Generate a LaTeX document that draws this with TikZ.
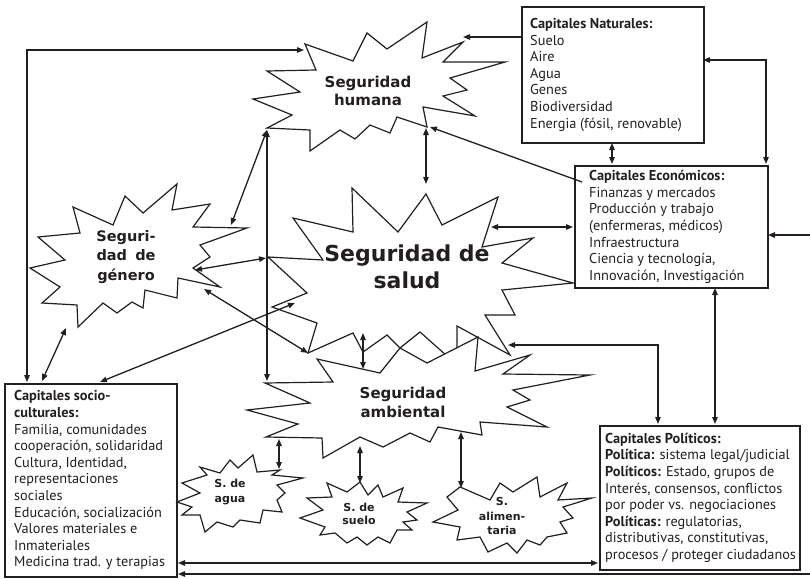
\documentclass[tikz,border=0pt]{standalone}
\usepackage{fontspec}
\setmainfont{PT Sans}
\newfontfamily\starfont{DejaVu Sans}
\usetikzlibrary{arrows.meta}
\definecolor{ink}{HTML}{231F20}
\begin{document}
\begin{tikzpicture}[x=1pt,y=-1pt,line join=miter,
  >={Triangle[length=7pt,width=5.5pt]},
  star/.style={draw=ink,fill=white,line width=1.2pt},
  conn/.style={draw=ink,line width=1.3pt},
  capbox/.style={draw=ink,line width=1.6pt,inner sep=0pt,anchor=north west},
  captext/.style={anchor=west,align=left,inner sep=0pt,text=ink,
    font=\fontsize{14.3}{16.6}\selectfont},
  startext/.style={align=center,inner sep=0pt,text=ink,font=\starfont\bfseries}]
\useasboundingbox (0,0) rectangle (810,578);

% ---- boxes ----
\node[capbox,minimum width=182pt,minimum height=136pt] (nat) at (521,6) {};
\node[capbox,minimum width=193pt,minimum height=122pt] (eco) at (574,165) {};
\node[capbox,minimum width=172pt,minimum height=193pt] (soc) at (4,383) {};
\node[capbox,minimum width=200pt,minimum height=144pt] (pol) at (599,425) {};

\node[captext] (natT) at ([xshift=9pt]nat.west) {\textbf{Capitales Naturales:}\\Suelo\\Aire\\Agua\\Genes\\Biodiversidad\\Energia (fósil, renovable)};
\node[captext] (ecoT) at ([xshift=15pt]eco.west) {\textbf{Capitales Económicos:}\\Finanzas y mercados\\Producción y trabajo\\(enfermeras, médicos)\\Infraestructura\\Ciencia y tecnología,\\Innovación, Investigación};
\node[captext] (socT) at ([xshift=10pt]soc.west) {\textbf{Capitales socio-}\\\textbf{culturales:}\\Familia, comunidades\\cooperación, solidaridad\\Cultura, Identidad,\\representaciones\\sociales\\Educación, socialización\\Valores materiales e\\Inmateriales\\Medicina trad. y terapias};
\node[captext] (polT) at ([xshift=6pt]pol.west) {\textbf{Capitales Políticos:}\\\textbf{Política:} sistema legal/judicial\\\textbf{Políticos:} Estado, grupos de\\Interés, consensos, conflictos\\por poder vs. negociaciones\\\textbf{Políticas:} regulatorias,\\distributivas, constitutivas,\\procesos / proteger ciudadanos};

% ---- stars ----
% Seguridad humana
\draw[star] (305,44)--(353,61)--(367,33)--(387,49)--(427,22)--(422,58)--(463,42)--(443,62)--(505,62)--(450,78)--(467,90)--(443,96)--(475,116)--(423,107)--(427,127)--(397,117)--(390,133)--(370,125)--(355,139)--(340,130)--(310,151)--(310,130)--(267,128)--(292,115)--(253,99)--(300,92)--(267,71)--(316,70)--cycle;
% Seguridad de salud
\draw[star] (268,257)--(323,260)--(293,218)--(353,232)--(352,188)--(398,232)--(426,194)--(442,225)--(498,197)--(482,247)--(533,238)--(502,263)--(573,283)--(502,290)--(515,315)--(485,315)--(510,355)--(457,326)--(457,350)--(447,356)--(420,332)--(400,348)--(387,335)--(363,352)--(353,333)--(308,353)--(317,323)--(272,307)--(307,293)--cycle;
% Seguridad ambiental
\draw[star] (265,383)--(333,382)--(317,359)--(380,373)--(400,348)--(427,363)--(478,337)--(475,371)--(530,355)--(503,374)--(590,375)--(513,390)--(530,400)--(507,407)--(547,427)--(480,422)--(482,435)--(438,427)--(430,442)--(410,433)--(383,447)--(360,437)--(323,458)--(322,438)--(266,437)--(298,424)--(247,410)--(310,403)--cycle;
% Seguridad de genero
\draw[star] (30,268)--(65,260)--(38,237)--(80,233)--(73,207)--(113,225)--(125,196)--(143,213)--(177,184)--(172,210)--(210,204)--(193,227)--(247,228)--(200,245)--(210,257)--(193,268)--(220,287)--(178,278)--(177,298)--(145,290)--(143,308)--(132,302)--(117,313)--(103,303)--(78,327)--(77,305)--(42,303)--(60,287)--cycle;
% S. de agua
\draw[star] (177,502)--(200,493)--(182,483)--(207,475)--(200,467)--(220,473)--(230,460)--(238,468)--(253,455)--(257,472)--(280,470)--(272,475)--(303,478)--(277,485)--(285,493)--(277,500)--(282,512)--(263,510)--(260,523)--(240,520)--(233,527)--(217,522)--(205,532)--(200,515)--(182,515)--(192,507)--cycle;
% S. de suelo
\draw[star] (300,518)--(323,510)--(307,498)--(332,497)--(327,483)--(347,492)--(360,482)--(368,495)--(378,485)--(383,497)--(403,488)--(398,502)--(427,503)--(407,512)--(417,520)--(403,522)--(412,530)--(397,530)--(390,543)--(378,537)--(367,545)--(357,537)--(347,543)--(335,533)--(320,535)--(325,527)--cycle;
% S. alimentaria
\draw[star] (460,487)--(490,500)--(500,483)--(513,492)--(537,477)--(540,497)--(567,483)--(558,500)--(592,498)--(563,507)--(573,518)--(560,522)--(567,533)--(547,537)--(540,545)--(527,540)--(517,553)--(507,543)--(488,552)--(480,537)--(457,540)--(460,527)--(433,522)--(458,510)--(447,497)--cycle;

% ---- star labels ----
\node[startext,font=\starfont\bfseries\fontsize{15}{18}\selectfont] (hum) at (368,91) {Seguridad\\humana};
\node[startext,font=\starfont\bfseries\fontsize{22}{27}\selectfont] (sal) at (407,267) {Seguridad de\\salud};
\node[startext,font=\starfont\bfseries\fontsize{15}{19}\selectfont] (amb) at (403,402) {Seguridad\\ambiental};
\node[startext,font=\starfont\bfseries\fontsize{14.5}{19.5}\selectfont] (gen) at (126,257) {Seguri-\\dad\hspace{0.22em} de\\género};
\node[startext,font=\starfont\bfseries\fontsize{11}{15}\selectfont] (agu) at (230,492) {S. de\\agua};
\node[startext,font=\starfont\bfseries\fontsize{11}{13.5}\selectfont] (sue) at (359,514) {S. de\\suelo};
\node[startext,font=\starfont\bfseries\fontsize{11}{14.5}\selectfont] (ali) at (502,516) {S.\\alimen-\\taria};

% ---- connector end points ----
\coordinate (humTL) at (304,50);
\coordinate (socTL) at (27,382);
\coordinate (genB) at (66,328);
\coordinate (socG) at (42,381);
\coordinate (socS) at (100,382);
\coordinate (salL) at (295,303);
\coordinate (humBL) at (267,130);
\coordinate (genTR) at (231,225);
\coordinate (ambTL) at (267,381);
\coordinate (genR) at (195,270);
\coordinate (salW) at (266,258);
\coordinate (genR2) at (204,289);
\coordinate (salBL) at (308,353);
\coordinate (humB) at (426,128);
\coordinate (salT) at (426,184);
\coordinate (ecoIn) at (582,182);
\coordinate (humBR) at (430,127);
\coordinate (natW) at (521,37);
\coordinate (humR) at (463,37);
\coordinate (natS) at (612,143);
\coordinate (ecoN) at (612,164);
\coordinate (natE) at (703,60);
\coordinate (ecoNE) at (766,164);
\coordinate (edgeR) at (810,235);
\coordinate (ecoE) at (768,235);
\coordinate (salE) at (491,227);
\coordinate (ecoW) at (573,227);
\coordinate (ecoS) at (715,288);
\coordinate (polN) at (715,424);
\coordinate (salSE) at (508,345);
\coordinate (polN2) at (658,424);
\coordinate (ambBL) at (279,439);
\coordinate (aguT) at (279,469);
\coordinate (ambB) at (360,446);
\coordinate (sueT) at (360,483);
\coordinate (ambBR) at (461,432);
\coordinate (aliT) at (461,488);
\coordinate (salB) at (363,333);
\coordinate (ambT) at (363,369);
\coordinate (socE) at (178,563);
\coordinate (polW) at (598,563);
\coordinate (edgeB) at (810,574);
\coordinate (socE2) at (178,574);

% ---- connectors ----
\draw[conn,<->] (socTL) |- (humTL);
\draw[conn,<->] (genB) -- (socG);
\draw[conn,<->] (socS) -- (salL);
\draw[conn,<->] (humBL) -- (genTR);
\draw[conn,<->] (humBL) -- (ambTL);
\draw[conn,<->] (genR) -- (salW);
\draw[conn,<->] (genR2) -- (salBL);
\draw[conn,<->] (humB) -- (salT);
\draw[conn,->] (ecoIn) -- (humBR);
\draw[conn,->] (natW) -- (humR);
\draw[conn,<->] (natS) -- (ecoN);
\draw[conn,<->] (natE) -| (ecoNE);
\draw[conn,->] (edgeR) -- (ecoE);
\draw[conn,<->] (salE) -- (ecoW);
\draw[conn,<->] (ecoS) -- (polN);
\draw[conn,<->] (salSE) -| (polN2);
\draw[conn,<->] (ambBL) -- (aguT);
\draw[conn,<->] (ambB) -- (sueT);
\draw[conn,<->] (ambBR) -- (aliT);
\draw[conn,<->] (salB) -- (ambT);
\draw[conn,<->] (socE) -- (polW);
\draw[conn,->] (edgeB) -- (socE2);
\end{tikzpicture}
\end{document}
